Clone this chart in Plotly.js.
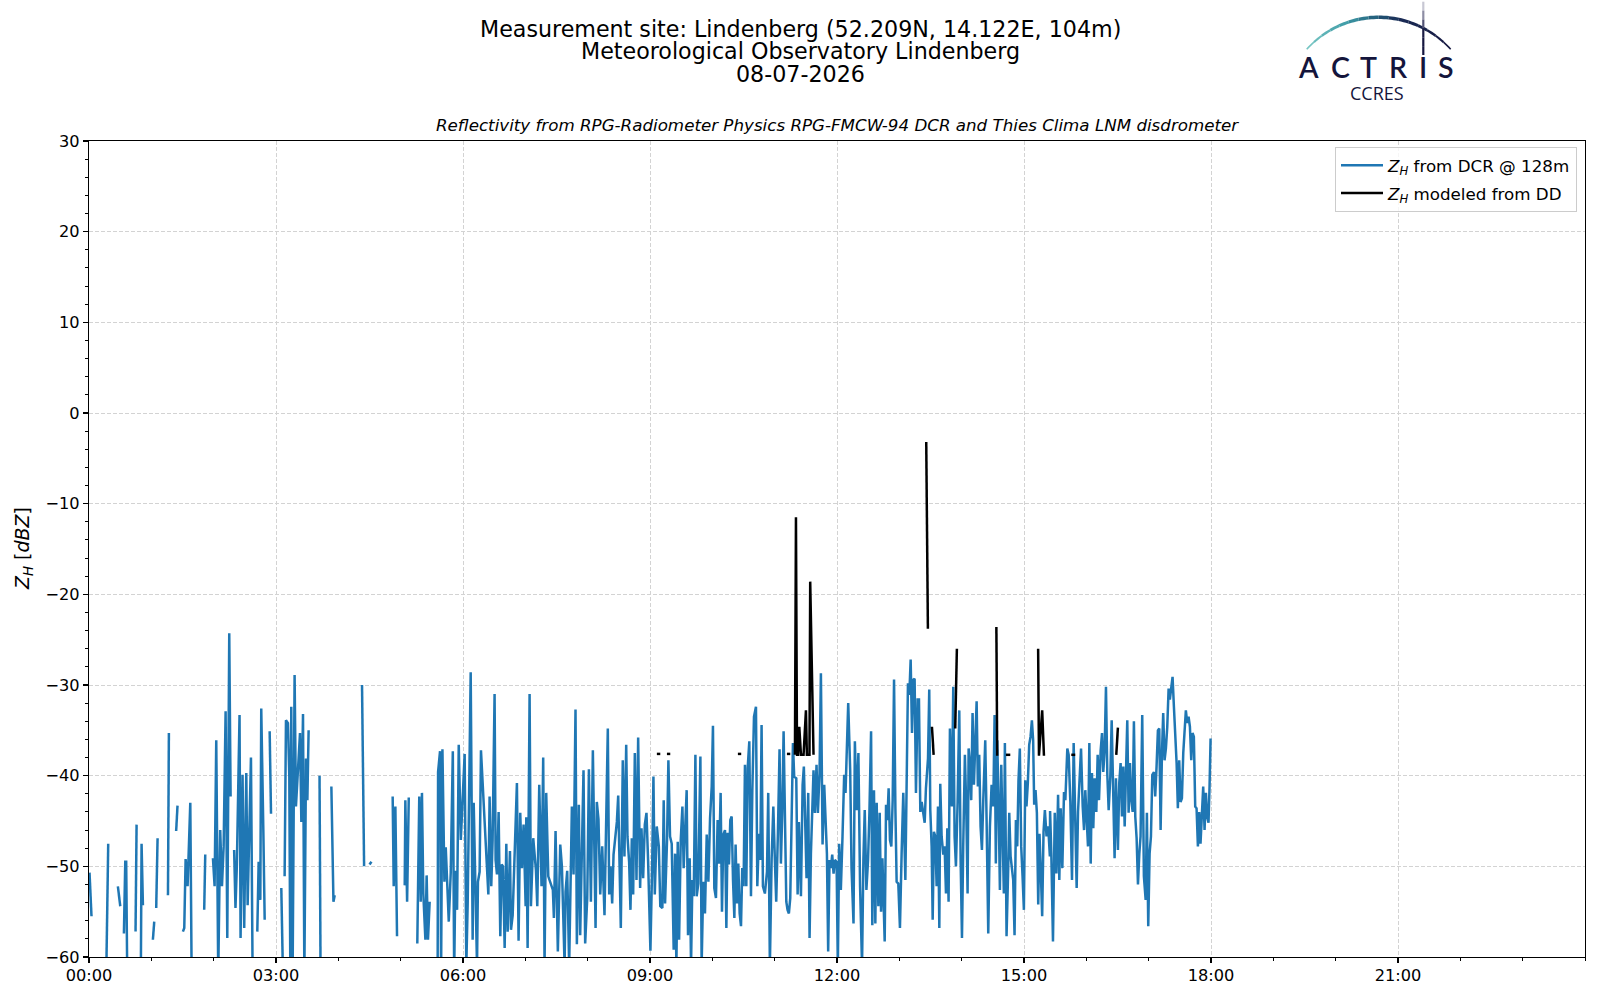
<!DOCTYPE html>
<html><head><meta charset="utf-8">
<script src="https://cdn.plot.ly/plotly-3.0.1.min.js"></script>
<style>html,body{margin:0;padding:0;background:#fff;} #chart{width:1600px;height:1000px;}</style>
</head><body><div id="chart"></div>
<script>
// ---------------- data (minutes since 00:00 UTC, reflectivity in dBZ) ----------------
const DAY = [2026, 6, 8];
const dcrMinutes = [
0.5,2.4,5, 16.6,18.5,20, 27.8,30.1,31, 33.6,34.9,35.8,36.8,40, 44.8,45.8,47, 49.9,50.6,51.9,54, 61.5,62.8,63.5, 64.7,66.0,70, 76.0,76.9,80, 83.9,85.2,87, 90.4,91.7,93.0,94.9,97.5,98.8,102, 110.9,111.9,115,
119.3,120.9,122.5,124.4,126.3,128.0,129.6,131.5,133.1,135.0,136.3,138,
139.7,141.0,142.3,144.9,145.9,147.8,149.4,151.4,152.7,154.3,155.9,157.5,160,
162.0,163.3,164.9,165.8,167.8,169.1,171, 173.9,175.2,180, 185.1,186.7,187.5,
188.3,189.6,191.5,192.8,193.8,194.7,196.0,197.9,199.2,203.1,204.4,206.0,207.3,208.9,210.2,211.4,215,
221.9,222.9,225, 233.3,235.3,236.5,240, 262.8,263.5,264.8,267, 270.0,271.9,275,
292.3,293.3,294.9,296.5,300, 303.9,304.5,306.2,307.8,310,
316.0,317.9,319.3,320.5,321.8,323.8,325.0,326.3,327.9,330,
335.6,336.0,337.9,338.9,340.2,342.1,343.4,345.0,346.3,348.2,350.2,351.5,352.7,354.3,355.9,357.9,
361.6,363.2,364.5,367.4,369.3,370.3,372.2,373.5,374.4,376.0,
377.3,384.4,385.6,387.2,388.5,390.4,391.4,392.7,394.3,395.9,
397.2,398.5,400.1,401.7,403.0,405.2,406.2,407.8,411.9,413.5,
415.1,416.7,418.3,420.3,420.9,422.2,424.1,425.4,427.6,430.2,
431.5,433.4,435.6,437.2,438.5,440.1,442.1,446.5,447.5,449.1,
451.3,453.6,455.2,457.8,458.7,460.3,462.2,464.8,466.4,468.3,
469.6,471.5,472.8,474.7,476.0,477.6,479.6,481.2,483.1,485.0,
486.3,487.6,488.8,490.4,492.1,494.0,496.2,497.5,499.4,500.7,
502.0,503.6,504.9,508.1,509.4,510.6,511.9,513.8,515.4,517.1,
518.3,519.9,521.2,522.5,523.8,525.4,527.0,528.6,530.5,531.8,
533.4,535.0,536.6,538.2,540.4,542.1,543.3,544.6,546.5,548.5,
549.9,551.9,553.2,554.5,556.4,557.7,559.3,560.9,562.8,564.1,565.4,
566.7,568.0,569.6,571.2,572.4,573.7,575.3,576.6,578.2,579.5,
580.8,582.1,583.7,584.9,586.5,588.5,589.7,591.3,592.9,594.6,
596.2,597.8,599.4,600.6,601.9,603.5,605.1,606.4,608.0,609.3,
610.6,612.2,613.5,614.7,616.0,617.3,618.6,619.9,621.2,622.4,
623.7,625.0,626.3,627.6,628.8,630.1,631.4,632.7,634.0,635.6,
637.2,638.5,640.1,642.0,643.3,644.9,646.2,647.4,648.7,650.6,
652.6,653.8,655.4,657.1,658.7,660.3,661.5,663.1,664.7,666.0,
667.3,668.6,669.9,671.2,672.4,673.7,675.0,676.3,677.6,678.8,
680.8,682.1,683.3,685.3,686.9,688.1,689.4,690.7,692.3,693.6,
694.9,696.2,697.4,698.7,700.3,701.6,703.2,704.5,706.1,707.7,
709.0,710.3,711.5,712.8,714.1,715.4,716.7,717.9,719.6,720.8,
722.1,723.7,725.3,726.9,728.2,729.5,730.8,732.7,734.0,735.9,
737.2,
739.0,740.6,742.2,744.1,745.4,746.7,748.3,749.9,751.2,752.8,
754.0,755.6,756.9,758.2,759.8,761.1,762.4,763.7,765.9,767.2,
768.5,769.7,771.0,772.3,773.6,774.9,776.2,777.4,779.0,780.6,
782.2,783.8,785.8,787.1,788.3,789.6,790.9,792.2,793.5,794.7,
796.0,797.6,798.9,800.2,801.5,804.4,805.6,807.6,808.8,809.8,
811.1,812.1,813.3,814.6,815.9,817.2,818.5,819.4,820.7,822.3,
823.6,824.9,826.2,827.4,828.7,830.6,831.9,833.2,834.5,836.1,
837.7,839.0,840.3,841.5,843.1,844.4,845.7,846.7,847.9,849.2,
850.5,851.8,853.1,854.4,855.6,856.9,858.2,859.5,860.8,862.7,
864.0,865.6,867.2,868.8,870.4,871.7,872.9,874.2,875.5,876.8,
878.1,879.4,880.6,881.6,883.2,884.8,885.8,887.1,888.3,889.6,
890.9,892.2,893.5,894.7,896.0,897.3,898.6,899.9,901.2,902.4,
903.7,905.0,906.3,907.6,908.8,909.8,911.1,912.4,913.7,914.9,
916.2,917.5,918.8,920.1,921.7,923.3,924.9,
925.1,926.3,927.9,929.6,931.2,932.8,934.0,935.3,936.9,938.5,
939.8,941.7,943.0,944.6,946.2,947.8,949.1,950.7,952.0,953.6,
954.9,956.5,957.8,959.0,960.3,961.6,962.9,964.2,965.4,966.7,
968.0,969.6,970.9,972.2,973.8,975.1,976.3,977.6,978.9,980.2,
981.5,983.1,984.4,986.0,987.2,988.5,990.4,991.7,993.0,994.3,
995.6,996.9,998.1,999.4,1000.7,1002.0,1003.3,1004.6,1005.8,1007.1,
1008.4,1009.7,1011.0,1012.2,1013.8,1015.4,1017.1,1018.3,1019.6,1020.9,
1022.2,1023.5,1025.1,1026.3,1027.6,1028.9,1030.2,1031.5,1032.8,1034.0,
1035.3,1036.6,1037.9,1039.2,1040.4,1041.7,1043.0,1044.3,1045.6,1046.9,
1048.1,1049.4,1050.7,1052.0,1053.3,1054.6,1055.8,1057.1,1058.4,1059.7,
1061.0,1062.2,1063.5,1064.8,1066.1,1067.4,1068.7,1069.9,1071.2,1072.5,
1073.8,1075.1,1076.3,1077.6,1078.6,1079.6
];
const dcrZh = [
-50.7,-55.5,null, -62,-47.5,null, -52.2,-54.4,null, -57.4,-49.5,-49.5,-62,null, -57.2,-45.4,null, -62,-47.5,-54.3,null, -58.1,-56.1,null, -54.6,-46.9,null, -53.2,-35.3,null, -46.1,-43.3,null, -57.2,-56.8,-49.2,-52.2,-43.0,-62,null, -54.8,-48.7,null,
-49.1,-52.2,-36.1,-62,-46.0,-52.2,-47.8,-32.9,-57.9,-24.3,-42.3,null,
-48.2,-54.6,-50.0,-33.3,-57.9,-39.9,-56.8,-39.7,-54.3,-45.6,-38.0,-62,null,
-57.2,-49.5,-53.7,-32.6,-46.0,-55.9,null, -35.1,-44.2,null, -52.4,-62,null,
-51.1,-33.9,-34.2,-40.1,-62,-32.4,-62,-28.9,-43.4,-35.3,-45.1,-33.2,-62,-38.1,-42.7,-35.0,null,
-40.0,-62,null, -41.2,-53.9,-53.2,null, -30.0,-40.3,-50.0,null, -49.8,-49.5,null,
-42.3,-52.2,-43.4,-57.7,null, -52.1,-42.7,-53.9,-42.4,null,
-58.5,-42.3,-53.9,-41.9,-53.0,-58.1,-51.0,-58.1,-53.9,null,
-62,-39.6,-37.3,-62,-37.1,-51.7,-47.9,-53.0,-56.1,-50.7,-37.3,-62,-50.5,-54.8,-36.6,-47.1,
-37.6,-61,-54.1,-28.6,-58.1,-43.0,-53.0,-61,-51.7,-50.6,
-37.2,-53.1,-42.3,-52.2,-47.1,-31.0,-49.3,-50.9,-44.0,-57.7,
-49.8,-50.0,-59.0,-47.5,-57.2,-48.3,-57.0,-55.4,-40.8,-58.2,
-44.1,-50.2,-45.4,-54.4,-44.6,-59.0,-31.0,-54.4,-46.9,-50.4,
-54.4,-41.0,-52.2,-38.0,-61,-41.9,-51.1,-52.6,-55.7,-46.1,
-59.4,-47.6,-50.0,-61,-52.8,-50.5,-61,-43.4,-50.9,-32.7,
-58.6,-43.2,-57.6,-47.5,-39.4,-58.5,-53.5,-39.3,-53.9,-37.2,
-48.6,-56.8,-42.9,-44.8,-53.1,-47.8,-55.4,-47.8,-34.8,-53.1,
-50.0,-54.1,-48.7,-45.1,-42.2,-49.3,-56.8,-38.3,-48.9,-36.6,
-46.7,-49.5,-54.8,-46.9,-53.1,-37.5,-51.5,-35.8,-52.4,-45.8,
-51.3,-45.4,-44.1,-49.5,-59.3,-49.7,-40.1,-53.1,-45.6,-47.8,
-54.4,-54.6,-42.7,-54.1,-47.1,-38.3,-46.7,-47.5,-59.2,-48.6,-61,
-47.3,-58.1,-47.1,-43.4,-50.2,-46.7,-41.6,-57.6,-49.1,-61,
-51.5,-53.3,-37.7,-53.3,-51.9,-37.9,-61,-51.7,-55.2,-46.5,
-51.7,-44.7,-41.2,-34.5,-52.4,-53.5,-44.9,-49.7,-41.9,-55.0,
-46.5,-46.0,-56.8,-46.3,-49.8,-44.9,-44.5,-51.5,-55.7,-47.6,
-54.1,-49.7,-55.2,-56.6,-50.2,-52.2,-38.8,-52.2,-39.2,-36.2,
-53.3,-41.6,-33.5,-32.4,-52.2,-46.4,-49.3,-34.4,-52.2,-53.0,
-50.6,-41.9,-61,-49.1,-43.4,-49.7,-53.9,-46.4,-37.1,-49.7,
-44.1,-35.1,-46.4,-53.9,-54.8,-55.2,-53.5,-46.4,-36.4,-40.1,
-40.3,-53.1,-45.1,-53.3,-41.0,-39.0,-47.1,-51.3,-41.9,-57.9,
-48.6,-44.1,-39.4,-44.1,-38.8,-44.1,-39.7,-28.7,-47.6,-41.0,
-44.9,-48.6,-59.4,-49.3,-50.2,-48.7,-50.8,-49.3,-49.5,-61,
-47.5,-52.6,-46.7,-39.9,-41.9,-36.8,-32.0,-39.4,-50.2,-56.3,
-36.2,
-43.8,-37.5,-52.2,-61,-49.3,-43.8,-52.6,-49.3,-44.1,-35.1,
-56.5,-41.6,-56.3,-43.0,-54.4,-44.1,-55.0,-49.1,-58.3,-43.2,
-44.9,-41.4,-47.1,-47.8,-42.7,-29.4,-43.6,-51.7,-51.9,-56.8,
-48.6,-41.9,-51.5,-38.6,-29.8,-31.1,-27.2,-35.3,-29.4,-29.3,
-41.9,-31.6,-31.6,-44.0,-42.9,-45.2,-41.4,-38.1,-30.5,-43.8,
-47.8,-55.9,-46.2,-46.7,-52.2,-43.4,-56.8,-40.9,-46.7,-48.7,
-47.8,-53.0,-45.8,-53.9,-34.8,-43.4,-30.2,-46.7,-50.0,-42.9,
-32.8,-49.3,-57.9,-47.8,-37.7,-43.4,-53.0,-37.0,-38.6,-42.7,
-33.1,-41.0,-36.4,-31.8,-41.2,-37.7,-45.6,-48.2,-42.7,-36.1,
-44.9,-57.4,-45.6,-41.0,-43.4,-33.3,-49.7,-36.1,-42.7,-52.6,
-38.8,-48.2,-53.0,-36.4,-57.7,-50.2,-44.1,-48.9,-50.4,-51.5,
-57.6,-44.9,-47.8,-40.5,-37.0,-47.8,-51.1,-54.8,-40.5,-43.4,
-40.8,-36.6,-35.7,-33.9,-36.1,-43.2,-41.6,-44.1,-54.2,-46.4,
-50.6,-55.5,-46.2,-43.8,-46.7,-45.6,-48.9,
-43.9,-48.6,-58.3,-44.1,-50.8,-42.1,-51.5,-43.6,-50.2,-41.8,
-42.7,-37.0,-37.7,-42.9,-51.5,-36.4,-43.4,-52.4,-44.0,-39.4,
-37.0,-43.4,-46.0,-41.6,-44.1,-47.8,-36.4,-49.7,-39.7,-45.8,
-40.3,-44.0,-37.7,-42.7,-37.2,-35.3,-39.6,-37.2,-30.2,-39.9,
-43.8,-40.1,-33.9,-41.0,-49.1,-40.3,-48.2,-40.8,-38.6,-44.5,
-39.0,-45.6,-38.6,-33.9,-44.1,-38.6,-42.7,-44.0,-34.0,-44.5,
-46.9,-52.0,-48.6,-46.7,-33.3,-51.1,-53.7,-44.1,-56.6,-48.6,
-46.7,-39.9,-39.6,-42.3,-39.0,-35.0,-34.8,-46.0,-37.5,-33.1,
-38.3,-37.0,-34.6,-30.4,-31.6,-30.5,-29.1,-32.4,-35.0,-38.6,
-43.6,-38.3,-42.9,-42.5,-37.5,-35.3,-32.8,-34.2,-33.5,-34.6,
-38.3,-35.3,-35.7,-43.4,-43.6,-47.8,-44.0,-47.5,-44.1,-41.2,
-46.0,-41.9,-44.5,-45.2,-41.2,-35.9
];
const ddMinutes = [
546.6,549.9,552, 556.3,559.5,562, 624.6,627.8,630, 671.8,675.0,677,
679.5,680.5,681.5,682.5,683.7,685.3,687.8,690.1,691.0,693.5,694.2,697.4,699,
805.9,807.5,809, 811.4,813.0,815, 833.8,835.4,837, 873.4,874.2,876, 882.6,886.8,889,
913.6,914.4,917.5,919.2,921, 945.5,949.3,951, 988.8,990.4
];
const ddZh = [
-37.6,-37.6,null, -37.6,-37.6,null, -37.6,-37.6,null, -37.6,-37.6,null,
-37.7,-11.5,-37.7,-37.7,-34.6,-37.7,-37.7,-32.8,-37.7,-37.7,-18.6,-37.7,null,
-3.2,-23.8,null, -34.6,-37.7,null, -34.8,-26.0,null, -23.6,-37.8,null, -37.7,-37.7,null,
-26.0,-37.8,-32.8,-37.8,null, -37.7,-37.7,null, -37.7,-34.7
];
const xTickHours = [0, 3, 6, 9, 12, 15, 18, 21];
const titleLines = [
  'Measurement site: Lindenberg (52.209N, 14.122E, 104m)',
  'Meteorological Observatory Lindenberg',
  '08-07-2026'
];
const subTitle = 'Reflectivity from RPG-Radiometer Physics RPG-FMCW-94 DCR and Thies Clima LNM disdrometer';

// ---------------- helpers ----------------
const base = Date.UTC(DAY[0], DAY[1], DAY[2]);
function stamp(min) {
  return new Date(base + Math.round(min * 60000)).toISOString().replace('T', ' ').replace('Z', '');
}
const pad2 = n => String(n).padStart(2, '0');

// plot area geometry (px) for placing decorations
const L = 89, R = 15, T = 141, B = 43, W = 1600, H = 1000;
const PW = W - L - R, PH = H - T - B;
const px = X => (X - L) / PW;
const py = Y => (H - B - Y) / PH;

const FONT = 'DejaVu Sans';

const traces = [
  {
    x: dcrMinutes.map(stamp), y: dcrZh, type: 'scatter', mode: 'lines',
    line: {color: '#1f77b4', width: 2.5}, connectgaps: false,
    name: '<i>Z</i><sub><i>H</i></sub> from DCR @ 128m', legendgroup: 'a'
  },
  {
    x: ddMinutes.map(stamp), y: ddZh, type: 'scatter', mode: 'lines',
    line: {color: '#000000', width: 2.5}, connectgaps: false,
    name: '<i>Z</i><sub><i>H</i></sub> modeled from DD', legendgroup: 'b'
  }
];

// ---------------- logo decorations ----------------
const shapes = [];
function lerpColor(stops, t) {
  for (let i = 0; i < stops.length - 1; i++) {
    const [t0, c0] = stops[i], [t1, c1] = stops[i + 1];
    if (t <= t1) {
      const f = (t - t0) / (t1 - t0);
      const a = [1, 3, 5].map(k => parseInt(c0.substr(k, 2), 16));
      const b = [1, 3, 5].map(k => parseInt(c1.substr(k, 2), 16));
      return 'rgb(' + a.map((v, j) => Math.round(v + (b[j] - v) * f)).join(',') + ')';
    }
  }
  return stops[stops.length - 1][1];
}
const arcStops = [[0, '#7ccac6'], [0.3, '#3f9ca7'], [0.5, '#205878'], [0.62, '#1b2c56'], [1, '#15163f']];
const cx = 1378.7, cy = 114.3, rad = 97, half = 47.9 * Math.PI / 180;
const NSEG = 16;
for (let i = 0; i < NSEG; i++) {
  const t0 = i / NSEG, t1 = (i + 1) / NSEG;
  let d = '';
  for (let k = 0; k <= 4; k++) {
    const t = t0 + (t1 - t0) * k / 4;
    const th = -half + 2 * half * t;
    const X = cx + rad * Math.sin(th), Y = cy - rad * Math.cos(th);
    d += (k === 0 ? 'M ' : ' L ') + px(X).toFixed(5) + ',' + py(Y).toFixed(5);
  }
  const tm = (t0 + t1) / 2;
  shapes.push({type: 'path', xref: 'paper', yref: 'paper', path: d,
    line: {color: lerpColor(arcStops, tm), width: 1.1 + 2.4 * Math.pow(Math.sin(Math.PI * tm), 0.7)}});
}
const vStops = [[0, '#e4e4ea'], [0.35, '#6a6a88'], [0.6, '#15163f'], [1, '#15163f']];
const vx = 1423.3, vy0 = 1.7, vy1 = 55;
for (let i = 0; i < 6; i++) {
  const a = vy0 + (vy1 - vy0) * i / 6, b = vy0 + (vy1 - vy0) * (i + 1) / 6;
  shapes.push({type: 'line', xref: 'paper', yref: 'paper', x0: px(vx), x1: px(vx), y0: py(a), y1: py(b),
    line: {color: lerpColor(vStops, (i + 0.5) / 6), width: 2.2}});
}

const annotations = [];
const titleY = [28.6, 51.0, 74.5];
titleLines.forEach((t, i) => annotations.push({
  text: t, xref: 'paper', yref: 'paper', x: px(800), y: py(titleY[i]), xanchor: 'center', yanchor: 'middle',
  showarrow: false, font: {family: FONT, size: 22.2, color: '#000'}
}));
annotations.push({
  text: '<i>' + subTitle + '</i>', xref: 'paper', yref: 'paper', x: 0.5, y: py(125.5),
  xanchor: 'center', yanchor: 'middle', showarrow: false, font: {family: FONT, size: 16.7, color: '#000'}
});
annotations.push({
  text: '<i>Z</i><sub><i>H</i></sub> [<i>dBZ</i>]', xref: 'paper', yref: 'paper', x: px(23), y: 0.5,
  xanchor: 'center', yanchor: 'middle', textangle: -90, showarrow: false,
  font: {family: FONT, size: 19, color: '#000'}
});
const logoLetters = ['A', 'C', 'T', 'R', 'I', 'S'];
const logoX = [1308.3, 1340, 1368.5, 1398.3, 1423.3, 1445.8];
logoLetters.forEach((c, i) => annotations.push({
  text: c, xref: 'paper', yref: 'paper', x: px(logoX[i]), y: py(67.3), xanchor: 'center', yanchor: 'middle',
  showarrow: false, font: {family: 'Lato', size: 28.5, color: '#14153c', weight: 600}
}));
annotations.push({
  text: 'CCRES', xref: 'paper', yref: 'paper', x: px(1376.7), y: py(92.7), xanchor: 'center', yanchor: 'middle',
  showarrow: false, font: {family: 'Open Sans', size: 18, color: '#14153c'}
});

const axisCommon = {
  showline: true, linecolor: '#000', linewidth: 1.1, mirror: true,
  ticks: 'outside', ticklen: 5, tickwidth: 1.1, tickcolor: '#000',
  showgrid: true, gridcolor: '#d3d3d3', gridwidth: 1, griddash: '4px,2px',
  zeroline: false, tickfont: {family: FONT, size: 16.2, color: '#000'}
};

const layout = {
  width: W, height: H,
  margin: {l: L, r: R, t: T, b: B},
  paper_bgcolor: '#fff', plot_bgcolor: '#fff',
  showlegend: true,
  legend: {
    x: px(1577), xanchor: 'right', y: py(147), yanchor: 'top',
    bgcolor: 'rgba(255,255,255,0.8)', bordercolor: '#cccccc', borderwidth: 1,
    font: {family: FONT, size: 16.7, color: '#000'},
    traceorder: 'grouped', tracegroupgap: 3, itemwidth: 42
  },
  xaxis: Object.assign({}, axisCommon, {
    type: 'date',
    range: [stamp(0), stamp(1440)],
    tickmode: 'array',
    tickvals: xTickHours.map(h => stamp(h * 60)),
    ticktext: xTickHours.map(h => pad2(h) + ':00'),
    ticklabelstandoff: -2,
    minor: {tickmode: 'linear', tick0: stamp(0), dtick: 3600000, ticks: 'outside', ticklen: 3,
            tickwidth: 1, tickcolor: '#000', showgrid: false}
  }),
  yaxis: Object.assign({}, axisCommon, {
    range: [-60, 30], tickmode: 'linear', tick0: 0, dtick: 10,
    minor: {tickmode: 'linear', tick0: 0, dtick: 2, ticks: 'outside', ticklen: 3,
            tickwidth: 1, tickcolor: '#000', showgrid: false}
  }),
  shapes: shapes,
  annotations: annotations
};

Plotly.newPlot('chart', traces, layout, {staticPlot: true, displayModeBar: false});
</script>
</body></html>
